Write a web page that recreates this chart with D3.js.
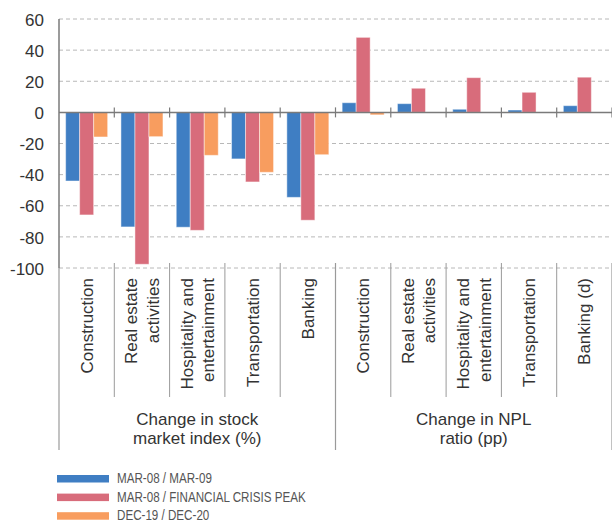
<!DOCTYPE html>
<html>
<head>
<meta charset="utf-8">
<script src="https://cdn.jsdelivr.net/npm/d3@7/dist/d3.min.js"></script>
<style>
  html, body { margin: 0; padding: 0; background: #fff; }
  svg { display: block; font-family: "Liberation Sans", Arial, Helvetica, sans-serif; }
</style>
</head>
<body>
<svg id="chart" width="612" height="523"></svg>
<script>
// Sector categories (multi-line labels split on "|")
const categories = [
  "Construction", "Real estate|activities", "Hospitality and|entertainment", "Transportation", "Banking",
  "Construction", "Real estate|activities", "Hospitality and|entertainment", "Transportation", "Banking (d)"
];
const groups = [
  { label: ["Change in stock", "market index (%)"], from: 0, to: 5 },
  { label: ["Change in NPL", "ratio (pp)"], from: 5, to: 10 }
];
const seriesNames = ["MAR-08 / MAR-09", "MAR-08 / FINANCIAL CRISIS PEAK", "DEC-19 / DEC-20"];
const seriesColors = ["#3F7EC3", "#D86C7B", "#F89D5F"];

const marMar = [-44.1, -73.6, -73.8, -29.9, -54.6, 6.2, 5.6, 2.0, 1.5, 4.3];
const marPeak = [-65.9, -97.6, -75.8, -44.7, -69.3, 48.2, 15.5, 22.3, 12.9, 22.6];
const decDec = [-15.8, -15.6, -27.6, -38.5, -27.2, -1.6, 0.1, -0.4, -0.1, -0.3];
const seriesValues = [marMar, marPeak, decDec];

const yTicks = [60, 40, 20, 0, -20, -40, -60, -80, -100];

const svg = d3.select("#chart");
const plotLeft = 59, plotRight = 612, plotTop = 19, plotBottom = 268;

const x = d3.scaleBand().domain(d3.range(categories.length)).range([plotLeft, plotRight]).padding(0);
const xInner = d3.scaleBand().domain(d3.range(seriesNames.length)).range([0, x.bandwidth()])
  .paddingInner(0).paddingOuter(0.475);
const y = d3.scaleLinear().domain([-100, 60]).range([plotBottom, plotTop]);

// dashed gridlines
svg.append("g").selectAll("line").data(yTicks.filter(t => t !== 0)).join("line")
  .attr("x1", plotLeft).attr("x2", plotRight)
  .attr("y1", d => y(d)).attr("y2", d => y(d))
  .attr("stroke", "#b8b8b8").attr("stroke-width", 1)
  .attr("stroke-dasharray", "4,3");

// y axis labels
const yAxis = d3.axisLeft(y).tickValues(yTicks).tickSize(0).tickPadding(15)
  .tickFormat(d => d);
const yg = svg.append("g").attr("transform", `translate(${plotLeft},0)`).call(yAxis);
yg.select(".domain").remove();
yg.selectAll("text").attr("font-size", 17).attr("fill", "#333")
  .attr("font-family", "Liberation Sans, Arial, sans-serif").attr("dy", "0.36em");

// bars
seriesValues.forEach((vals, si) => {
  svg.append("g").selectAll("rect").data(vals).join("rect")
    .attr("x", (d, i) => x(i) + xInner(si))
    .attr("width", xInner.bandwidth())
    .attr("y", d => y(Math.max(0, d)))
    .attr("height", d => Math.abs(y(d) - y(0)))
    .attr("fill", seriesColors[si])
    .attr("stroke", "rgba(255,255,255,0.45)")
    .attr("stroke-width", 1);
});

// zero line and category ticks
svg.append("line").attr("x1", plotLeft).attr("x2", plotRight)
  .attr("y1", y(0)).attr("y2", y(0)).attr("stroke", "#7a7a7a").attr("stroke-width", 1.5);
const boundaries = d3.range(1, categories.length + 1).map(i => plotLeft + i * x.step());
svg.append("g").selectAll("line").data(boundaries).join("line")
  .attr("x1", d => d).attr("x2", d => d)
  .attr("y1", y(0) - 5).attr("y2", y(0) + 5)
  .attr("stroke", "#7a7a7a").attr("stroke-width", 1.2);

// y axis line
svg.append("line").attr("x1", plotLeft).attr("x2", plotLeft)
  .attr("y1", plotTop).attr("y2", plotBottom)
  .attr("stroke", "#7a7a7a").attr("stroke-width", 1.5);

// category dividers in the label area
const groupEdges = new Set(groups.flatMap(g => [g.from, g.to]));
const innerDividers = d3.range(1, categories.length).filter(i => !groupEdges.has(i));
svg.append("g").selectAll("line").data(innerDividers).join("line")
  .attr("x1", i => plotLeft + i * x.step()).attr("x2", i => plotLeft + i * x.step())
  .attr("y1", plotBottom - 5).attr("y2", 397)
  .attr("stroke", "#9a9a9a").attr("stroke-width", 1);
svg.append("g").selectAll("line").data([...groupEdges]).join("line")
  .attr("x1", i => plotLeft + i * x.step()).attr("x2", i => plotLeft + i * x.step())
  .attr("y1", i => i === 0 ? plotBottom : plotBottom - 5).attr("y2", 450)
  .attr("stroke", "#9a9a9a").attr("stroke-width", 1.2);

// rotated category labels
const catG = svg.append("g");
categories.forEach((c, i) => {
  const lines = c.split("|");
  const cx = x(i) + x.bandwidth() / 2;
  lines.forEach((ln, li) => {
    const off = (li - (lines.length - 1) / 2) * 21.5;
    catG.append("text")
      .attr("transform", `translate(${cx + off},278) rotate(-90)`)
      .attr("text-anchor", "end")
      .attr("dy", "0.36em")
      .attr("font-size", 17)
      .attr("fill", "#333")
      .text(ln);
  });
});

// group labels
groups.forEach(g => {
  const cx = plotLeft + (g.from + g.to) / 2 * x.step();
  g.label.forEach((ln, li) => {
    svg.append("text").attr("x", cx).attr("y", 425 + li * 19)
      .attr("text-anchor", "middle").attr("font-size", 17).attr("fill", "#333").text(ln);
  });
});

// legend
const legend = svg.append("g").attr("transform", "translate(57,475)");
seriesNames.forEach((s, i) => {
  const row = legend.append("g").attr("transform", `translate(0,${i * 18.6})`);
  row.append("rect").attr("width", 52).attr("height", 7.5).attr("fill", seriesColors[i]);
  row.append("text").attr("transform", "translate(60,8) scale(0.775,1)")
    .attr("font-size", 15).attr("fill", "#555").text(s);
});
</script>
</body>
</html>
